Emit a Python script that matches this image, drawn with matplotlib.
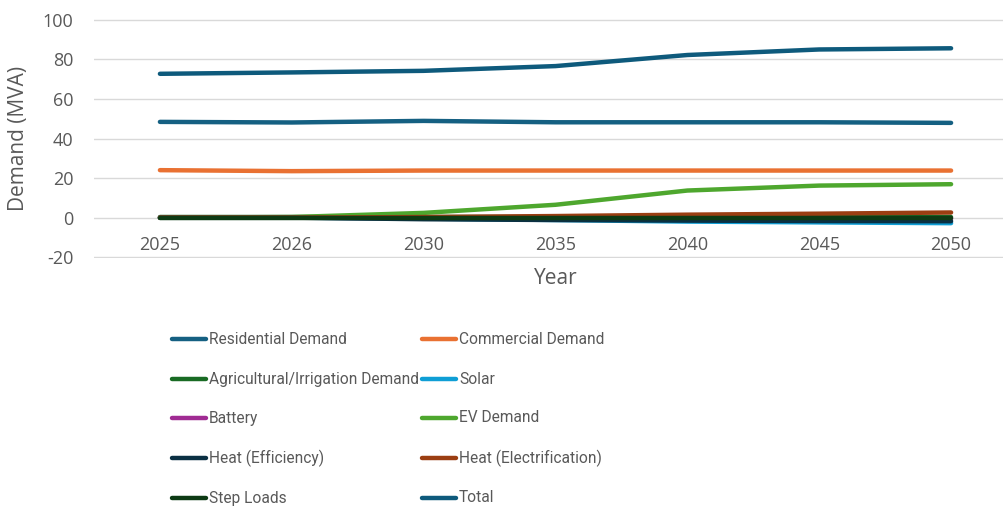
import matplotlib
matplotlib.use("Agg")
import matplotlib.pyplot as plt
from matplotlib.lines import Line2D

plt.rcParams["axes.unicode_minus"] = False

years = ["2025", "2026", "2030", "2035", "2040", "2045", "2050"]

residential = [48.4, 48.1, 48.9, 48.2, 48.2, 48.2, 47.9]
commercial = [24.0, 23.5, 23.8, 23.8, 23.8, 23.8, 23.8]
agricultural = [0.3, 0.3, 0.3, 0.3, 0.3, 0.3, 0.3]
solar = [0.0, 0.0, -0.5, -1.2, -2.0, -2.4, -2.8]
battery = [0.0, 0.0, -0.3, -0.5, -0.5, -0.5, -0.5]
ev_demand = [0.0, 0.3, 2.4, 6.5, 13.7, 16.2, 16.9]
heat_efficiency = [0.0, 0.0, -0.8, -1.2, -1.5, -1.7, -1.8]
heat_electrification = [0.0, 0.0, 0.3, 0.8, 1.5, 2.0, 2.6]
step_loads = [0.0, 0.0, 0.0, 0.0, 0.0, 0.0, 0.0]
total = [72.7, 73.4, 74.2, 76.6, 82.2, 85.0, 85.6]

series_names = [
    "Residential Demand", "Commercial Demand", "Agricultural/Irrigation Demand",
    "Solar", "Battery", "EV Demand", "Heat (Efficiency)",
    "Heat (Electrification)", "Step Loads", "Total",
]
series_values = [
    residential, commercial, agricultural, solar, battery, ev_demand,
    heat_efficiency, heat_electrification, step_loads, total,
]
series_colors = [
    "#156082", "#E97132", "#196B24", "#0F9ED5", "#A02B93", "#4EA72E",
    "#0B3043", "#9B3E12", "#0D3A14", "#0E5A7C",
]

TEXT = "#595959"
W, H = 1004, 511
fig = plt.figure(figsize=(W / 100, H / 100), dpi=100)

# plot area in pixel coordinates (category axis padded by half a slot each side)
left_px, right_px, top_px, bottom_px = 94, 1017, 19, 258
ax = fig.add_axes([left_px / W, 1 - bottom_px / H,
                   (right_px - left_px) / W, (bottom_px - top_px) / H])

x = list(range(len(years)))
for name, vals, col in zip(series_names, series_values, series_colors):
    ax.plot(x, vals, color=col, lw=3.2, solid_capstyle="round",
            solid_joinstyle="round", label=name, zorder=3)

ax.set_xlim(-0.5, len(years) - 0.5)
ax.set_ylim(-20.4, 100.4)
ax.set_yticks([-20, 0, 20, 40, 60, 80, 100])
ax.set_xticks(x)
ax.set_xticklabels(years)
ax.grid(axis="y", color="#D9D9D9", lw=1.0, zorder=0)
ax.set_axisbelow(True)
for s in ["top", "right", "left"]:
    ax.spines[s].set_visible(False)
ax.spines["bottom"].set_position(("data", 0))
ax.spines["bottom"].set_color("none")
ax.tick_params(axis="both", length=0, labelcolor=TEXT, labelsize=13)
ax.tick_params(axis="x", pad=13)
ax.tick_params(axis="y", pad=15)
for lbl in ax.get_xticklabels() + ax.get_yticklabels():
    lbl.set_fontfamily("Open Sans")

ax.set_ylabel("Demand (MVA)", fontsize=15, color=TEXT, family="Open Sans")
ax.yaxis.set_label_coords(-(left_px - 29) / (right_px - left_px), 0.5)
fig.text(555.5 / W, 1 - 278 / H, "Year", fontsize=15, color=TEXT,
         family="Open Sans", ha="center", va="center")

# legend laid out in two columns below the plot
col_x = [172, 422]
row_y = [339, 379, 418, 458, 498]
for i, (name, col) in enumerate(zip(series_names, series_colors)):
    cx = col_x[i % 2]
    ry = row_y[i // 2]
    fig.add_artist(Line2D([cx / W, (cx + 34) / W], [1 - ry / H, 1 - ry / H],
                          color=col, lw=3.2, solid_capstyle="round",
                          transform=fig.transFigure))
    fig.text((cx + 37) / W, 1 - ry / H, name, fontsize=11.2, color=TEXT,
             family="Roboto", ha="left", va="center")

fig.savefig("out.png", dpi=100)
